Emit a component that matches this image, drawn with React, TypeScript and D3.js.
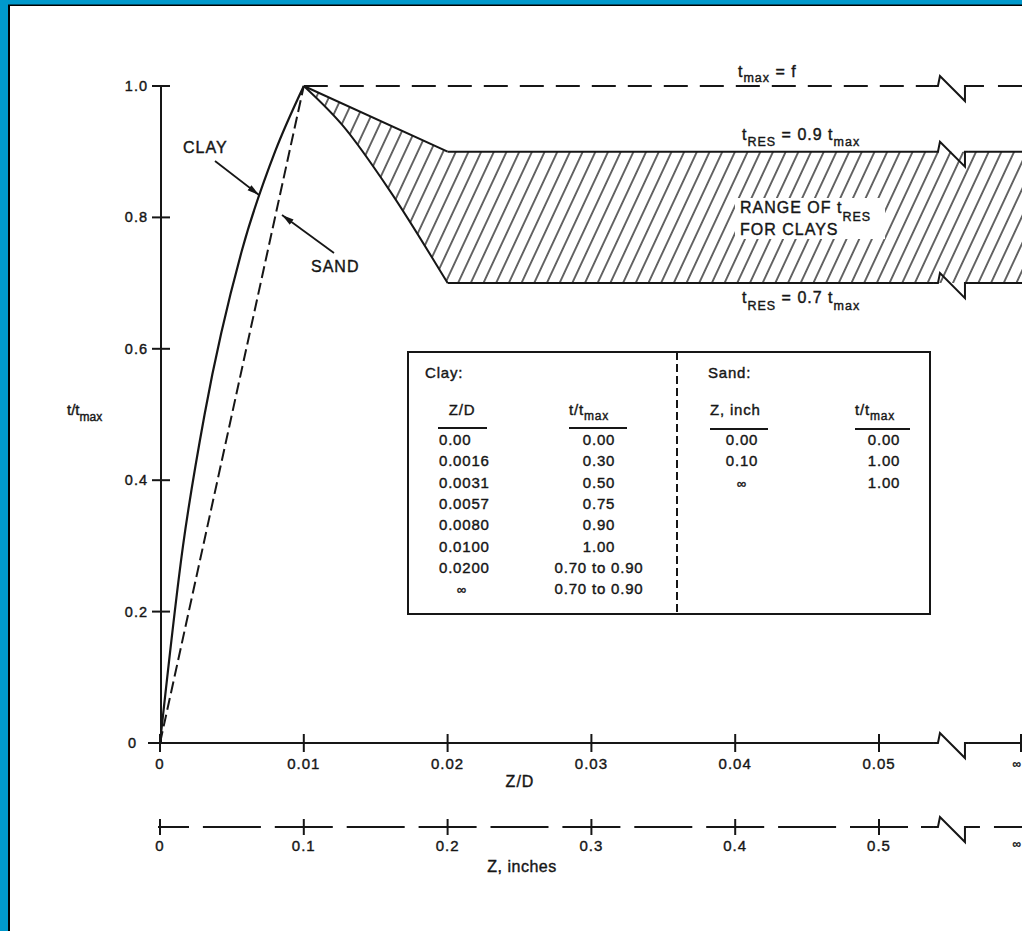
import React from 'react'
import * as d3 from 'd3'

const width = 1022
const height = 931
const font = "'Liberation Sans', Arial, Helvetica, sans-serif"

// clay curve, Z/D vs t/tmax
const clayZD = [0, 0.0016, 0.0031, 0.0057, 0.008, 0.01]
const clayT = [0, 0.3, 0.5, 0.75, 0.9, 1.0]
// sand curve, Z in inches
const sandZ = [0, 0.1]
const sandT = [0, 1.0]
// edges of the residual band after the peak (lower edge)
const resUpperZD = [0.01, 0.02]
const resUpperT = [1.0, 0.9]
const resLowerZD = [0.01, 0.0127, 0.016, 0.02]
const resLowerT = [1.0, 0.94, 0.84, 0.7]
const tMax = 1.0
const tResHigh = 0.9
const tResLow = 0.7
const breakZD = 0.0541

const yTicks = [0, 0.2, 0.4, 0.6, 0.8, 1.0]
const yTickLabels = ['0', '0.2', '0.4', '0.6', '0.8', '1.0']
const zdTicks = [0, 0.01, 0.02, 0.03, 0.04, 0.05]
const zdTickLabels = ['0', '0.01', '0.02', '0.03', '0.04', '0.05']
const inchTicks = [0, 0.1, 0.2, 0.3, 0.4, 0.5]
const inchTickLabels = ['0', '0.1', '0.2', '0.3', '0.4', '0.5']

const clayTableZD = ['0.00', '0.0016', '0.0031', '0.0057', '0.0080', '0.0100', '0.0200', '∞']
const clayTableT = ['0.00', '0.30', '0.50', '0.75', '0.90', '1.00', '0.70 to 0.90', '0.70 to 0.90']
const sandTableZ = ['0.00', '0.10', '∞']
const sandTableT = ['0.00', '1.00', '1.00']

const x = d3.scaleLinear().domain([0, 0.05]).range([160, 879])
const xIn = d3.scaleLinear().domain([0, 0.5]).range([160, 879])
const y = d3.scaleLinear().domain([0, 1]).range([743, 86])

const axisY = y(0)
const inchY = 827
const xInf = 1022
const bx = x(breakZD)

// the "Z" shaped axis break glyph
const brk = (x0: number, y0: number) =>
    `M${x0 - 4},${y0} L${x0},${y0} L${x0 + 2},${y0 - 10} L${x0 + 27},${y0 + 15} L${x0 + 27},${y0} L${x0 + 31},${y0}`

const ink = '#161616'

export default function App() {
    const clayLine = d3
        .line<number>()
        .x((d) => x(d))
        .y((d, i) => y(clayT[i]))
        .curve(d3.curveMonotoneX)(clayZD)

    const sandLine = d3
        .line<number>()
        .x((d) => xIn(d))
        .y((d, i) => y(sandT[i]))(sandZ)

    const upperPts: [number, number][] = resUpperZD.map((d, i) => [x(d), y(resUpperT[i])])
    const lowerPts: [number, number][] = resLowerZD.map((d, i) => [x(d), y(resLowerT[i])])
    const lowerCurve = d3.line().curve(d3.curveCatmullRom.alpha(0.5))
    const upperPath = d3.line()(upperPts) || ''
    const lowerPath = lowerCurve(lowerPts) || ''
    const lowerRev = (lowerCurve([...lowerPts].reverse()) || '').replace(/^M/, 'L')
    const bandPath =
        upperPath +
        `L${xInf + 10},${y(tResHigh)}L${xInf + 10},${y(tResLow)}L${x(0.02)},${y(tResLow)}` +
        lowerRev +
        'Z'

    const period = xIn(0.05) - xIn(0)
    const dash = 58
    const rowY = (i: number) => 445 + i * 21.3

    return (
        <svg
            width={width}
            height={height}
            style={{ position: 'absolute', left: 0, top: 0, fontFamily: font }}
        >
            <style>{`text { stroke: ${ink}; stroke-width: 0.4px; }`}</style>
            <defs>
                <pattern
                    id="hatch"
                    patternUnits="userSpaceOnUse"
                    width={11.5}
                    height={30}
                    patternTransform="rotate(25)"
                >
                    <line x1={5.75} y1={0} x2={5.75} y2={30} stroke={ink} strokeWidth={1.3} />
                </pattern>
                <marker
                    id="arrow"
                    markerUnits="userSpaceOnUse"
                    markerWidth={13}
                    markerHeight={8}
                    refX={12}
                    refY={4}
                    orient="auto"
                >
                    <path d="M0,0.8 L12,4 L0,7.2 Z" fill={ink} />
                </marker>
            </defs>

            {/* frame */}
            <rect x={0} y={0} width={width} height={height} fill="#0099cc" />
            <rect x={8} y={4.5} width={width} height={height} fill="#000" />
            <rect x={10} y={6} width={width} height={height} fill="#fff" />

            {/* residual band */}
            <path d={bandPath} fill="url(#hatch)" />
            <rect x={735} y={198} width={150} height={41} fill="#fff" />
            <path d={upperPath} fill="none" stroke={ink} strokeWidth={2} />
            <path d={lowerPath} fill="none" stroke={ink} strokeWidth={2} />
            {[tResHigh, tResLow].map((v) => (
                <g key={v} fill="none" stroke={ink} strokeWidth={2}>
                    <line x1={x(0.02)} y1={y(v)} x2={bx - 4} y2={y(v)} />
                    <path d={brk(bx, y(v))} />
                    <line x1={bx + 31} y1={y(v)} x2={xInf + 5} y2={y(v)} />
                </g>
            ))}

            {/* t max line */}
            <g fill="none" stroke={ink} strokeWidth={2}>
                <line x1={x(0.01)} y1={y(tMax)} x2={bx - 4} y2={y(tMax)} strokeDasharray="24 12" />
                <path d={brk(bx, y(tMax))} />
                <line x1={bx + 31} y1={y(tMax)} x2={bx + 46} y2={y(tMax)} />
                <line x1={bx + 60} y1={y(tMax)} x2={xInf + 5} y2={y(tMax)} />
            </g>

            {/* curves */}
            <path d={clayLine || ''} fill="none" stroke={ink} strokeWidth={2.2} />
            <path d={sandLine || ''} fill="none" stroke={ink} strokeWidth={2} strokeDasharray="12 5" />

            {/* y axis */}
            <line x1={161} y1={y(1)} x2={161} y2={axisY} stroke={ink} strokeWidth={2} />
            {yTicks.map((t, i) => (
                <g key={t}>
                    {t > 0 && <line x1={152} x2={170} y1={y(t)} y2={y(t)} stroke={ink} strokeWidth={2} />}
                    <text
                        x={t === 0 ? 137 : 148}
                        y={y(t) + 5}
                        textAnchor="end"
                        fontSize={14.5}
                        letterSpacing={1}
                        fill={ink}
                    >
                        {yTickLabels[i]}
                    </text>
                </g>
            ))}
            <text x={67} y={415} fontSize={15} fill={ink}>
                t/t
                <tspan fontSize={12} dy={6}>
                    max
                </tspan>
            </text>

            {/* Z/D axis */}
            <g stroke={ink} strokeWidth={2} fill="none">
                <line x1={148} y1={axisY} x2={bx - 4} y2={axisY} />
                <path d={brk(bx, axisY)} />
                <line x1={bx + 31} y1={axisY} x2={xInf + 5} y2={axisY} />
                {zdTicks.map((t) => (
                    <line key={t} x1={x(t)} x2={x(t)} y1={axisY - 9} y2={axisY + 9} />
                ))}
                <line x1={xInf - 1} x2={xInf - 1} y1={axisY - 9} y2={axisY + 9} />
            </g>
            {zdTicks.map((t, i) => (
                <text
                    key={t}
                    x={x(t)}
                    y={axisY + 26}
                    textAnchor="middle"
                    fontSize={15}
                    letterSpacing={1}
                    fill={ink}
                >
                    {zdTickLabels[i]}
                </text>
            ))}
            <text x={xInf - 1} y={axisY + 25} textAnchor="end" fontSize={12} fill={ink}>
                ∞
            </text>
            <text x={520} y={787} textAnchor="middle" fontSize={16} letterSpacing={1} fill={ink}>
                Z/D
            </text>

            {/* Z inches axis */}
            <g stroke={ink} strokeWidth={2} fill="none">
                <line
                    x1={158}
                    y1={inchY}
                    x2={xIn(0.5) + 29}
                    y2={inchY}
                    strokeDasharray={`${dash} ${period - dash}`}
                    strokeDashoffset={27}
                />
                <line x1={xIn(0.5) + 42} y1={inchY} x2={bx - 4} y2={inchY} />
                <path d={brk(bx, inchY)} />
                <line x1={bx + 31} y1={inchY} x2={bx + 42} y2={inchY} />
                <line x1={bx + 56} y1={inchY} x2={xInf + 5} y2={inchY} />
                {inchTicks.map((t) => (
                    <line key={t} x1={xIn(t)} x2={xIn(t)} y1={inchY - 8} y2={inchY + 8} />
                ))}
            </g>
            {inchTicks.map((t, i) => (
                <text
                    key={t}
                    x={xIn(t)}
                    y={inchY + 24}
                    textAnchor="middle"
                    fontSize={15}
                    letterSpacing={1}
                    fill={ink}
                >
                    {inchTickLabels[i]}
                </text>
            ))}
            <text x={xInf - 1} y={inchY + 21} textAnchor="end" fontSize={12} fill={ink}>
                ∞
            </text>
            <text x={522} y={872} textAnchor="middle" fontSize={16} letterSpacing={0.5} fill={ink}>
                Z, inches
            </text>

            {/* curve labels and arrows */}
            <text x={183} y={153} fontSize={16} letterSpacing={1} fill={ink}>
                CLAY
            </text>
            <line x1={215} y1={161} x2={259} y2={195} stroke={ink} strokeWidth={1.8} markerEnd="url(#arrow)" />
            <text x={311} y={272} fontSize={16} letterSpacing={1} fill={ink}>
                SAND
            </text>
            <line x1={334} y1={253} x2={282} y2={215} stroke={ink} strokeWidth={1.8} markerEnd="url(#arrow)" />

            {/* band labels */}
            <g fill={ink} fontSize={16} letterSpacing={1}>
                <text x={738} y={77}>
                    t
                    <tspan fontSize={12.5} dy={5}>
                        max
                    </tspan>
                    <tspan dy={-5}> = f</tspan>
                </text>
                <text x={742} y={140}>
                    t
                    <tspan fontSize={12.5} dy={6}>
                        RES
                    </tspan>
                    <tspan dy={-6}> = 0.9 t</tspan>
                    <tspan fontSize={12.5} dy={6}>
                        max
                    </tspan>
                </text>
                <text x={742} y={303}>
                    t
                    <tspan fontSize={12.5} dy={7}>
                        RES
                    </tspan>
                    <tspan dy={-7}> = 0.7 t</tspan>
                    <tspan fontSize={12.5} dy={7}>
                        max
                    </tspan>
                </text>
                <text x={740} y={213}>
                    RANGE OF t
                    <tspan fontSize={12.5} dy={8}>
                        RES
                    </tspan>
                </text>
                <text x={740} y={235}>
                    FOR CLAYS
                </text>
            </g>

            {/* table */}
            <rect x={408} y={352} width={522} height={262} fill="#fff" stroke={ink} strokeWidth={2} />
            <line x1={677} y1={352} x2={677} y2={614} stroke={ink} strokeWidth={2} strokeDasharray="8 4" />
            <g fill={ink} fontSize={15} letterSpacing={0.8}>
                <text x={425} y={378}>Clay:</text>
                <text x={462} y={415} textAnchor="middle">
                    Z/D
                </text>
                <text x={569} y={415}>
                    t/t
                    <tspan fontSize={12} dy={5}>
                        max
                    </tspan>
                </text>
                {clayTableZD.map((s, i) =>
                    s === '∞' ? (
                        <text key={i} x={462} y={rowY(i)} textAnchor="middle" fontSize={13}>
                            {s}
                        </text>
                    ) : (
                        <text key={i} x={439} y={rowY(i)}>
                            {s}
                        </text>
                    ),
                )}
                {clayTableT.map((s, i) => (
                    <text key={i} x={599} y={rowY(i)} textAnchor="middle">
                        {s}
                    </text>
                ))}

                <text x={708} y={378}>Sand:</text>
                <text x={710} y={415}>Z, inch</text>
                <text x={855} y={415}>
                    t/t
                    <tspan fontSize={12} dy={5}>
                        max
                    </tspan>
                </text>
                {sandTableZ.map((s, i) => (
                    <text key={i} x={742} y={rowY(i)} textAnchor="middle" fontSize={s === '∞' ? 13 : 15}>
                        {s}
                    </text>
                ))}
                {sandTableT.map((s, i) => (
                    <text key={i} x={884} y={rowY(i)} textAnchor="middle">
                        {s}
                    </text>
                ))}
            </g>
            <g stroke={ink} strokeWidth={2.2}>
                <line x1={438} x2={487} y1={428} y2={428} />
                <line x1={569} x2={627} y1={428} y2={428} />
                <line x1={710} x2={768} y1={429} y2={429} />
                <line x1={855} x2={910} y1={429} y2={429} />
            </g>
        </svg>
    )
}
